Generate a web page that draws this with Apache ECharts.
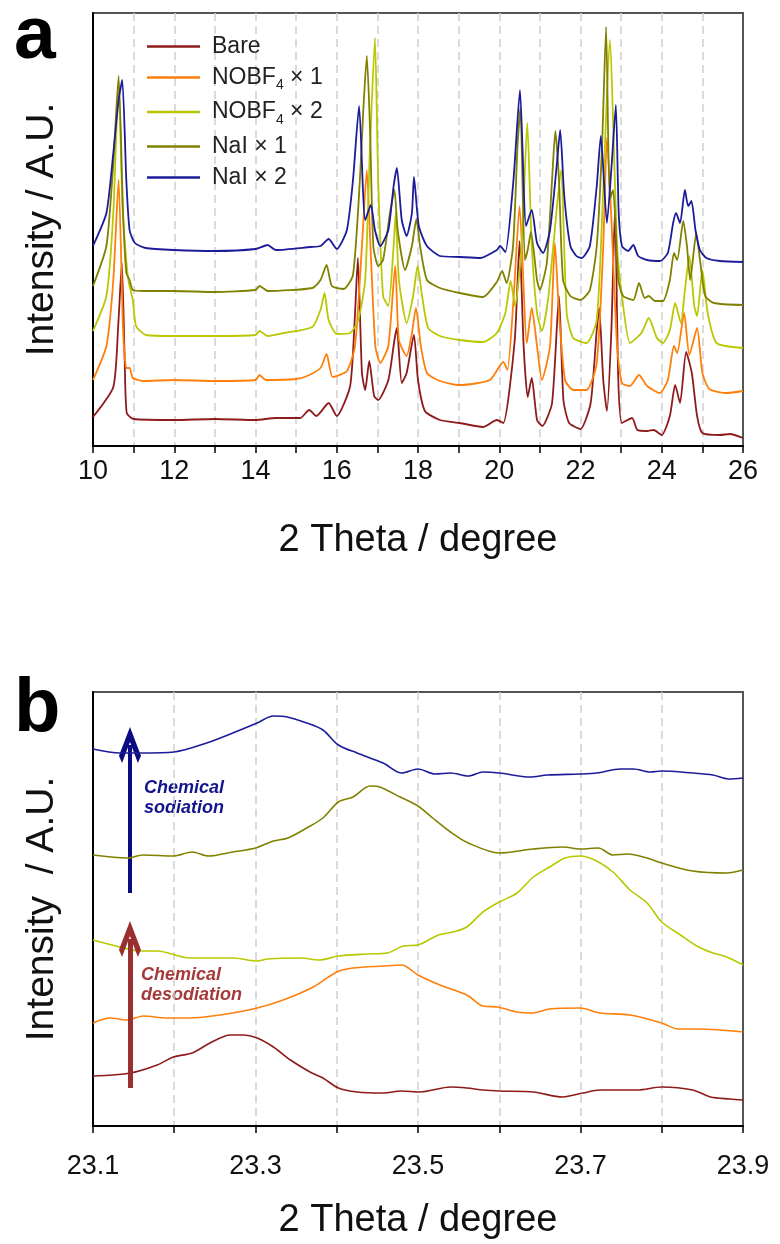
<!DOCTYPE html>
<html><head><meta charset="utf-8">
<script src="https://cdn.jsdelivr.net/npm/echarts/dist/echarts.min.js"></script>
<style>html,body{margin:0;padding:0;background:#fff}#c{width:780px;height:1244px}</style>
</head><body><div id="c"></div>
<script>
// ---------- names & colours ----------
const seriesNames = ['Bare', 'NOBF4 × 1', 'NOBF4 × 2', 'NaI × 1', 'NaI × 2'];
const seriesColors = ['#8e1b1b', '#ff7f0a', '#b9c800', '#818100', '#1c1c9a'];

// ---------- panel a: 2θ (deg), intensity (offset, a.u.) ----------
const bareA = [[10.0,29],[10.5,59],[10.62,120],[10.71,183],[10.78,86],[10.83,33],[11.0,27],[12,26],[13,27],[14,26],[14.5,28],[15.1,28],[15.32,36],[15.5,30],[15.8,43],[16.0,30],[16.33,60],[16.45,133],[16.52,188],[16.62,73],[16.7,56],[16.8,85],[16.92,50],[17.02,46],[17.27,66],[17.42,106],[17.48,118],[17.6,63],[17.72,73],[17.9,111],[18.0,66],[18.17,35],[18.54,26],[19.03,23],[19.6,19],[19.94,26],[20.1,23],[20.38,105],[20.5,205],[20.6,100],[20.7,49],[20.8,68],[20.93,26],[21.06,20],[21.3,43],[21.47,150],[21.58,46],[21.72,23],[22.0,17],[22.25,43],[22.4,116],[22.46,138],[22.56,66],[22.65,35],[22.76,116],[22.85,238],[22.93,66],[23.02,23],[23.27,28],[23.4,16],[23.64,15],[23.8,16],[24.0,11],[24.2,30],[24.33,61],[24.45,43],[24.6,94],[24.74,73],[24.87,30],[25.0,13],[25.43,11],[25.68,12],[26.0,8]];
const nobf1A = [[10.0,66],[10.33,100],[10.5,166],[10.63,266],[10.74,116],[10.82,78],[10.9,78],[10.98,68],[11.23,65],[12,66],[13,65],[14.0,66],[14.1,71],[14.25,66],[15.0,67],[15.27,70],[15.6,78],[15.75,92],[15.9,69],[16.25,75],[16.45,100],[16.62,200],[16.74,276],[16.83,200],[16.95,100],[17.07,83],[17.27,100],[17.44,180],[17.53,106],[17.72,90],[17.85,113],[17.95,138],[18.07,100],[18.22,73],[18.54,65],[19.03,61],[19.77,66],[20.1,84],[20.2,76],[20.35,146],[20.5,240],[20.68,103],[20.8,138],[20.93,100],[21.05,66],[21.25,100],[21.37,203],[21.47,133],[21.62,66],[21.82,56],[22.15,56],[22.4,83],[22.56,200],[22.65,308],[22.75,236],[22.9,100],[23.02,63],[23.22,60],[23.44,71],[23.64,60],[23.95,53],[24.15,66],[24.3,100],[24.38,93],[24.55,133],[24.68,91],[24.87,118],[25.0,73],[25.17,57],[25.6,53],[26.0,55]];
const nobf2A = [[10.0,115],[10.33,150],[10.5,233],[10.63,364],[10.72,246],[10.79,200],[10.87,166],[10.98,146],[11.06,120],[11.3,111],[12,110],[13,110],[14.0,111],[14.1,115],[14.3,110],[14.7,113],[15.4,119],[15.6,136],[15.7,153],[15.8,126],[16.0,112],[16.33,113],[16.53,126],[16.7,166],[16.82,300],[16.94,408],[17.02,266],[17.14,150],[17.27,140],[17.4,200],[17.45,233],[17.53,166],[17.72,123],[17.88,150],[17.99,180],[18.1,150],[18.25,118],[18.54,110],[19.03,106],[19.6,104],[19.94,113],[20.15,133],[20.28,165],[20.39,140],[20.55,200],[20.69,323],[20.8,200],[20.93,133],[21.05,115],[21.2,146],[21.33,200],[21.52,276],[21.66,133],[21.82,108],[22.15,103],[22.4,126],[22.55,246],[22.72,406],[22.9,200],[23.02,150],[23.22,103],[23.5,113],[23.68,128],[23.88,108],[24.03,103],[24.2,116],[24.33,143],[24.47,123],[24.57,156],[24.68,190],[24.8,140],[24.87,130],[25.0,176],[25.13,133],[25.35,103],[26.0,98]];
const nai1A = [[10.0,160],[10.33,200],[10.5,283],[10.63,370],[10.74,233],[10.82,173],[10.9,166],[10.98,156],[11.25,155],[12,155],[13,154],[14.0,156],[14.1,160],[14.3,155],[15.4,158],[15.6,166],[15.75,181],[15.88,160],[16.17,157],[16.4,171],[16.57,266],[16.65,333],[16.74,390],[16.82,316],[16.9,200],[17.02,180],[17.14,186],[17.31,233],[17.42,256],[17.5,216],[17.68,176],[17.85,200],[17.96,227],[18.05,200],[18.22,166],[18.54,158],[19.03,153],[19.6,149],[19.94,164],[20.07,175],[20.18,163],[20.34,200],[20.45,300],[20.52,338],[20.63,186],[20.7,196],[20.78,214],[20.93,166],[21.0,156],[21.17,183],[21.3,266],[21.38,315],[21.47,266],[21.57,166],[21.75,150],[22.0,146],[22.23,156],[22.4,200],[22.53,300],[22.63,419],[22.72,246],[22.8,256],[22.87,216],[22.93,166],[23.05,150],[23.3,146],[23.44,163],[23.58,148],[23.68,150],[23.83,145],[24.03,145],[24.2,166],[24.3,193],[24.38,186],[24.53,225],[24.62,200],[24.7,166],[24.85,213],[24.95,183],[25.07,150],[25.28,143],[26.0,141]];
const nai2A = [[10.0,200],[10.33,233],[10.5,293],[10.63,346],[10.72,366],[10.82,266],[10.9,216],[11.03,203],[11.3,198],[12,196],[13,195],[14.0,197],[14.3,201],[14.5,196],[15.35,199],[15.6,200],[15.8,207],[16.0,197],[16.25,216],[16.4,266],[16.55,340],[16.7,226],[16.84,241],[16.94,216],[17.07,200],[17.27,216],[17.4,260],[17.48,278],[17.6,226],[17.72,210],[17.85,233],[17.9,269],[18.02,220],[18.22,200],[18.54,190],[19.03,189],[19.53,188],[19.94,196],[20.02,200],[20.15,194],[20.35,266],[20.51,356],[20.66,220],[20.8,236],[20.93,203],[21.08,193],[21.25,216],[21.42,283],[21.5,316],[21.6,250],[21.75,200],[21.9,190],[22.03,188],[22.23,200],[22.4,260],[22.5,310],[22.65,223],[22.77,283],[22.87,341],[22.94,233],[23.02,200],[23.17,195],[23.3,201],[23.42,190],[23.64,186],[23.96,185],[24.15,193],[24.28,223],[24.35,233],[24.45,223],[24.57,256],[24.65,240],[24.73,245],[24.83,216],[24.94,196],[25.1,188],[25.43,185],[26.0,184]];

// ---------- panel b ----------
const bareB = [[23.1,50],[23.146,53],[23.179,61],[23.199,69],[23.222,73],[23.244,83],[23.269,91],[23.285,91],[23.302,88],[23.322,79],[23.343,66],[23.367,54],[23.383,48],[23.402,38],[23.425,34],[23.457,33],[23.48,35],[23.502,34],[23.54,39],[23.56,38],[23.58,36],[23.6,35],[23.642,34],[23.678,29],[23.703,33],[23.724,36],[23.77,36],[23.8,39],[23.838,36],[23.86,29],[23.884,27],[23.9,26]];
const nobf1B = [[23.1,103],[23.121,108],[23.142,106],[23.162,110],[23.191,108],[23.219,108],[23.256,111],[23.302,118],[23.334,126],[23.371,139],[23.4,154],[23.42,158],[23.457,160],[23.48,161],[23.5,151],[23.527,141],[23.56,131],[23.58,120],[23.598,119],[23.622,114],[23.64,113],[23.662,117],[23.7,118],[23.724,113],[23.761,111],[23.8,103],[23.82,97],[23.847,97],[23.9,94]];
const nobf2B = [[23.1,186],[23.133,179],[23.158,175],[23.179,175],[23.219,168],[23.272,168],[23.302,165],[23.315,167],[23.355,168],[23.379,166],[23.402,170],[23.437,172],[23.462,173],[23.482,180],[23.5,181],[23.525,191],[23.543,194],[23.56,199],[23.58,214],[23.6,224],[23.622,233],[23.642,249],[23.662,259],[23.681,268],[23.7,270],[23.72,265],[23.74,254],[23.761,236],[23.782,223],[23.8,204],[23.823,191],[23.843,180],[23.863,173],[23.88,169],[23.9,161]];
const nai1B = [[23.1,271],[23.142,268],[23.162,271],[23.199,270],[23.222,274],[23.242,270],[23.272,274],[23.3,278],[23.322,285],[23.34,288],[23.363,298],[23.383,308],[23.402,324],[23.42,329],[23.441,340],[23.453,339],[23.478,329],[23.5,320],[23.518,308],[23.54,294],[23.562,283],[23.6,273],[23.642,277],[23.678,279],[23.7,277],[23.722,278],[23.74,271],[23.758,272],[23.782,268],[23.8,263],[23.838,255],[23.88,253],[23.9,256]];
const nai2B = [[23.1,377],[23.133,373],[23.158,373],[23.2,374],[23.24,383],[23.272,393],[23.302,403],[23.322,410],[23.339,409],[23.363,403],[23.383,396],[23.402,381],[23.425,373],[23.457,363],[23.48,353],[23.5,357],[23.521,352],[23.54,353],[23.562,350],[23.58,354],[23.6,353],[23.638,349],[23.659,351],[23.7,352],[23.72,353],[23.749,357],[23.765,357],[23.786,354],[23.8,355],[23.838,353],[23.863,351],[23.882,347],[23.9,348]];

// arrows (x, from, to) in panel b data units
const sodiationArrow = [23.1455, 233, 399];
const desodiationArrow = [23.1455, 38, 205];

const dataA = [bareA, nobf1A, nobf2A, nai1A, nai2A];
const dataB = [bareB, nobf1B, nobf2B, nai1B, nai2B];

const FONT = '"Liberation Sans", Arial, sans-serif';
const chevron = 'path://M50,0L100,80L86,100L50,42L14,100L0,80Z';

const chart = echarts.init(document.getElementById('c'), null, {renderer: 'canvas'});

function xAxisCommon(min, max, interval, fmt, margin) {
  return {
    type: 'value', min, max, interval,
    axisLine: {show: true, onZero: false, lineStyle: {color: '#000', width: 2}},
    axisTick: {show: true, length: 7, lineStyle: {color: '#000', width: 1.5}},
    axisLabel: {show: true, margin, fontSize: 27, color: '#111', fontFamily: FONT, formatter: fmt},
    splitLine: {show: true, showMinLine: false, showMaxLine: false,
      lineStyle: {color: '#cfcfcf', width: 1.5, type: [8, 5]}},
    name: '2 Theta / degree', nameLocation: 'middle', nameGap: 76,
    nameTextStyle: {fontSize: 38, color: '#111', fontFamily: FONT}
  };
}
function yAxisCommon(max, name) {
  return {
    type: 'value', min: 0, max,
    axisLine: {show: true, lineStyle: {color: '#000', width: 2}},
    axisTick: {show: false}, axisLabel: {show: false}, splitLine: {show: false},
    name, nameLocation: 'middle', nameGap: 31,
    nameTextStyle: {fontSize: 39, color: '#111', fontFamily: FONT}
  };
}

const series = [];
seriesNames.forEach((n, i) => {
  series.push({
    type: 'line', name: n, xAxisIndex: 0, yAxisIndex: 0, data: dataA[i],
    showSymbol: false, smooth: 0.2, z: 2 + i,
    lineStyle: {width: 1.8, color: seriesColors[i]}, itemStyle: {color: seriesColors[i]}
  });
});
seriesNames.forEach((n, i) => {
  series.push({
    type: 'line', name: n, xAxisIndex: 1, yAxisIndex: 1, data: dataB[i],
    showSymbol: false, smooth: 0.3, z: 2 + i,
    lineStyle: {width: 1.6, color: seriesColors[i]}, itemStyle: {color: seriesColors[i]}
  });
});
function arrowMark(a, color, width) {
  return {
    silent: true, animation: false,
    symbol: ['none', chevron], symbolSize: [22, 36],
    lineStyle: {color, width, type: 'solid'}, label: {show: false},
    emphasis: {disabled: true},
    data: [[{coord: [a[0], a[1]]}, {coord: [a[0], a[2] - 18]}]]
  };
}
series[9].markLine = arrowMark(sodiationArrow, '#0a0a82', 4);
series[5].markLine = arrowMark(desodiationArrow, '#9a2f2f', 5);

const option = {
  backgroundColor: '#fff',
  animation: false,
  grid: [
    {left: 93, top: 13, width: 650, height: 433, show: true, borderColor: '#555', borderWidth: 2},
    {left: 93, top: 692, width: 650, height: 434, show: true, borderColor: '#555', borderWidth: 2}
  ],
  xAxis: [
    Object.assign(xAxisCommon(10, 26, 1, v => (v % 2 === 0 ? String(v) : ''), 12), {gridIndex: 0}),
    Object.assign(xAxisCommon(23.1, 23.9, 0.1, v => (Math.round((v - 23.1) * 10) % 2 === 0 ? v.toFixed(1) : ''), 27), {gridIndex: 1})
  ],
  yAxis: [
    Object.assign(yAxisCommon(433, 'Intensity / A.U.'), {gridIndex: 0}),
    Object.assign(yAxisCommon(434, 'Intensity  / A.U.'), {gridIndex: 1})
  ],
  legend: {
    data: seriesNames, orient: 'vertical', left: 147, top: 35, padding: 0,
    icon: 'rect', itemWidth: 53, itemHeight: 2.5, itemGap: 8,
    selectedMode: false,
    formatter: n => n.replace('NOBF4', 'NOBF{sub|4}'),
    textStyle: {fontSize: 23, color: '#222', fontFamily: FONT, padding: [0, 0, 0, 7],
      rich: {sub: {fontSize: 14, fontFamily: FONT, color: '#222', verticalAlign: 'bottom', lineHeight: 30}}}
  },
  graphic: [
    {type: 'text', left: 14, top: 0, silent: true,
      style: {text: 'a', font: 'bold 75px ' + FONT, fill: '#000'}},
    {type: 'text', left: 14, top: 672, silent: true,
      style: {text: 'b', font: 'bold 76px ' + FONT, fill: '#000'}},
    {type: 'text', left: 144, top: 778, silent: true,
      style: {text: 'Chemical\nsodiation', font: 'italic bold 18px ' + FONT, lineHeight: 20, fill: '#14148c'}},
    {type: 'text', left: 141, top: 965, silent: true,
      style: {text: 'Chemical\ndesodiation', font: 'italic bold 18px ' + FONT, lineHeight: 20, fill: '#a43a3a'}}
  ],
  series
};
chart.setOption(option);
</script>
</body></html>
